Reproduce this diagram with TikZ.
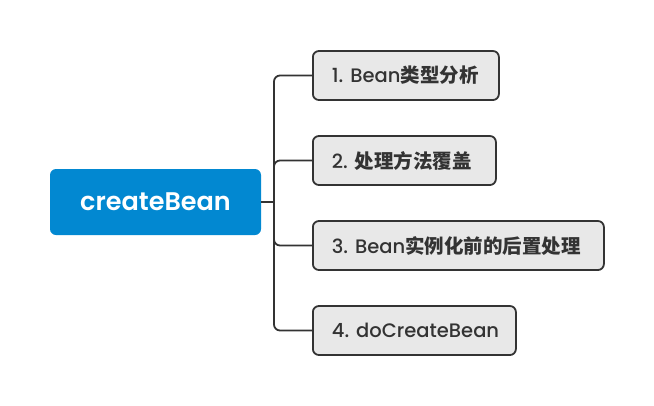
\documentclass[tikz,border=0pt]{standalone}
\usepackage{fontspec}
\setmainfont{Poppins}[UprightFont=* Medium, BoldFont=* SemiBold]
\newfontfamily\cjk{Noto Sans CJK SC}
\newcommand{\zh}[1]{{\cjk\bfseries #1}}
\newcommand{\nsp}{\hspace{7pt}}
\definecolor{rootblue}{HTML}{0288D1}
\definecolor{boxfill}{HTML}{E8E8E8}
\definecolor{ink}{HTML}{333333}
\begin{document}
\begin{tikzpicture}[x=1pt,y=-1pt,
  rootbox/.style={fill=rootblue,rounded corners=6pt,minimum width=211pt,minimum height=66pt,text=white,font=\fontsize{25.5}{30}\selectfont\bfseries,inner sep=0pt},
  itembox/.style={draw=ink,line width=1.8pt,fill=boxfill,rounded corners=6pt,minimum height=49pt,anchor=west,text=ink,font=\fontsize{19.5}{23}\selectfont,inner xsep=19pt,inner ysep=0pt,align=left},
  link/.style={draw=ink,line width=1.8pt,rounded corners=6pt}]
\useasboundingbox (0,0) rectangle (654,405);
\node[rootbox] (root) at (155.5,202) {createBean};
\node[itembox,text width=148pt] (b1) at (312,75.5) {\mbox{1.\nsp Bean\zh{类型分析}}};
\node[itembox,text width=145pt] (b2) at (312,160.5) {\mbox{2.\nsp\zh{处理方法覆盖}}};
\node[itembox,text width=253pt] (b3) at (312,245.5) {\mbox{3.\nsp Bean\zh{实例化前的后置处理}}};
\node[itembox,text width=165pt] (b4) at (312,330.5) {\mbox{4.\nsp doCreateBean}};
\coordinate (j) at (274,202);
\draw[link] (root.east) -- (j);
\draw[link] (j) |- (b1.west);
\draw[link] (j) |- (b2.west);
\draw[link] (j) |- (b3.west);
\draw[link] (j) |- (b4.west);
\end{tikzpicture}
\end{document}
